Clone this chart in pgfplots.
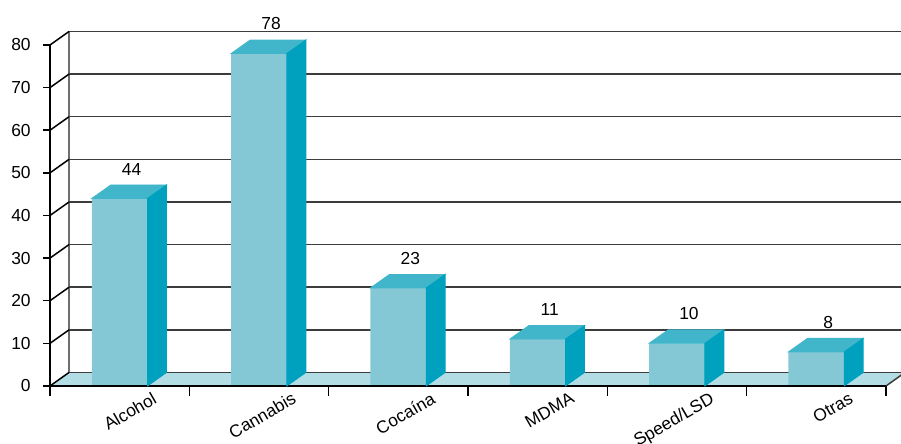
\documentclass[border=0pt]{standalone}
\usepackage{fontspec}
\setmainfont{Liberation Sans}
\usepackage{pgfplots}
\usepackage{pgfplotstable}
\pgfplotsset{compat=1.18}
\definecolor{frontcol}{RGB}{132,200,214}
\definecolor{topcol}{RGB}{65,182,203}
\definecolor{sidecol}{RGB}{0,161,191}
\definecolor{floorcol}{RGB}{179,221,229}
\definecolor{gridcol}{RGB}{60,60,60}
\definecolor{wallcol}{RGB}{110,110,110}

\pgfplotstableread{
x v
0 44
1 78
2 23
3 11
4 10
5 8
}\datatable

\newcommand\bw{13.93pt}
\newcommand\ddx{9.5pt}
\newcommand\ddy{6.75pt}
\newcommand\yu{2.13125pt}
\def\barh{0pt}

\pgfdeclareplotmark{bar3d}{%
  \fill[topcol] (-\bw,0pt) -- ++(\ddx,\ddy) -- ++(2*\bw,0pt) -- ++(-\ddx,-\ddy) -- cycle;
  \fill[sidecol] (\bw,0pt) -- ++(\ddx,\ddy) -- ++(0pt,-\barh) -- ++(-\ddx,-\ddy) -- cycle;
}

\begin{document}
\begin{tikzpicture}
\begin{axis}[
  x=69.667pt, y=2.13125pt,
  xmin=-0.5, xmax=5.5, ymin=0, ymax=80,
  axis x line*=bottom, axis y line*=left,
  axis line style={-, black, line width=0.75pt},
  axis on top,
  clip=false,
  xtick={-0.5,0.5,1.5,2.5,3.5,4.5,5.5},
  xticklabels={},
  major tick length=5pt,
  extra x ticks={0,1,2,3,4,5},
  extra x tick labels={Alcohol,Cannabis,Cocaína,MDMA,Speed/LSD,Otras},
  extra x tick style={major tick length=0pt,
    xticklabel style={xshift=16pt, yshift=-2.5pt, rotate=30, anchor=north east, inner sep=0pt}},
  ytick=\empty,
  extra y ticks={0,10,20,30,40,50,60,70,80},
  extra y tick style={major tick length=3.5pt,
    yticklabel style={anchor=east, inner sep=0pt, xshift=-6pt}},
  tick style={black, line width=0.75pt},
  tick align=outside,
  tick label style={font=\fontsize{8.7pt}{10pt}\selectfont},
  /pgf/number format/assume math mode=true,
]
\addplot[fill=floorcol, draw=none, forget plot] coordinates {(-0.5,0) (5.5,0) (5.6364,3.167) (-0.3636,3.167)} -- cycle;
\draw[wallcol, line width=0.75pt] (axis cs:-0.3636,3.167) -- (axis cs:-0.3636,83.167);
\pgfplotsinvokeforeach{3.167,13.167,23.167,33.167,43.167,53.167,63.167,73.167,83.167}{
  \draw[gridcol, line width=0.75pt] (axis cs:-0.3636,#1) -- (axis cs:5.66,#1);
}
\draw[black, line width=0.75pt] (axis cs:-0.5,0) -- (axis cs:-0.3636,3.167);
\draw[black, line width=0.75pt] (axis cs:-0.5,10) -- (axis cs:-0.3636,13.167);
\draw[black, line width=0.75pt] (axis cs:-0.5,20) -- (axis cs:-0.3636,23.167);
\draw[black, line width=0.75pt] (axis cs:-0.5,30) -- (axis cs:-0.3636,33.167);
\draw[black, line width=0.75pt] (axis cs:-0.5,40) -- (axis cs:-0.3636,43.167);
\draw[black, line width=0.75pt] (axis cs:-0.5,50) -- (axis cs:-0.3636,53.167);
\draw[black, line width=0.75pt] (axis cs:-0.5,60) -- (axis cs:-0.3636,63.167);
\draw[black, line width=0.75pt] (axis cs:-0.5,70) -- (axis cs:-0.3636,73.167);
\draw[black, line width=0.75pt] (axis cs:-0.5,80) -- (axis cs:-0.3636,83.167);
\draw[gridcol, line width=0.75pt] (axis cs:5.5,0) -- (axis cs:5.6364,3.167);

\addplot[ybar, bar width=0.4, bar shift=0pt, fill=frontcol, draw=none,
  nodes near coords,
  every node near coord/.append style={font=\fontsize{8.7pt}{10pt}\selectfont, anchor=south, inner sep=0pt, yshift=11.5pt, xshift=6pt, black}]
  table[x=x, y=v]{\datatable};

\addplot[scatter, only marks, mark=bar3d,
  point meta=y, point meta min=0, point meta max=100,
  scatter/@pre marker code/.code={\pgfmathsetlengthmacro\barh{\pgfplotspointmetatransformed*\yu/10}},
  scatter/@post marker code/.code={},
  forget plot]
  table[x=x, y=v]{\datatable};

\coordinate (bbA) at (axis cs:-0.8589,-13.607);
\coordinate (bbB) at (axis cs:5.6078,90.557);
\end{axis}
\pgfresetboundingbox
\path[use as bounding box] (bbA) rectangle (bbB);
\end{tikzpicture}
\end{document}
